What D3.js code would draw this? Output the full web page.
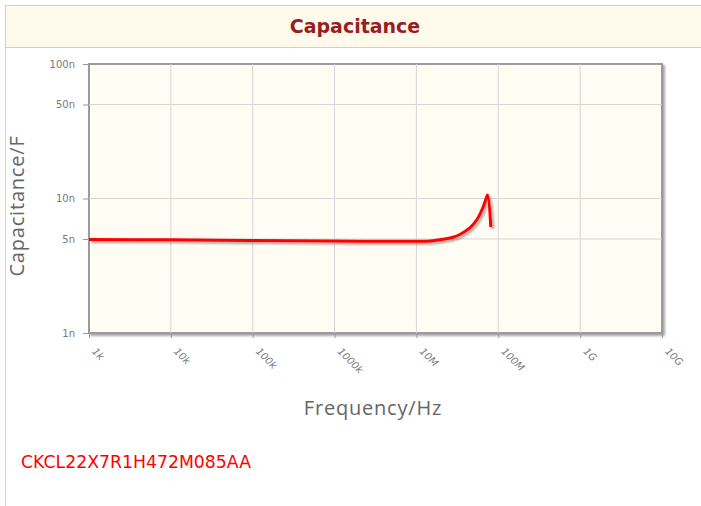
<!DOCTYPE html>
<html>
<head>
<meta charset="utf-8">
<script src="https://cdn.jsdelivr.net/npm/d3@7"></script>
<style>
  body { margin: 0; background: #fff; font-family: "DejaVu Sans", sans-serif; }
</style>
</head>
<body>
<script>
// data
var freqs = [1e3, 1e4, 1e5, 1e6, 1e7, 1.46e7, 2.2e7, 2.8e7, 3.39e7, 4.49e7, 5.46e7, 6.46e7, 7.1e7, 7.4e7, 8.1e7];
var caps  = [4.96e-9, 4.93e-9, 4.87e-9, 4.83e-9, 4.8e-9, 4.83e-9, 5.0e-9, 5.15e-9, 5.4e-9, 6.04e-9, 6.95e-9, 8.5e-9, 10.0e-9, 10.6e-9, 6.14e-9];
var xTicks = [1e3, 1e4, 1e5, 1e6, 1e7, 1e8, 1e9, 1e10];
var xTickLabels = ["1k", "10k", "100k", "1000k", "10M", "100M", "1G", "10G"];
var yTicks = [1e-9, 5e-9, 10e-9, 50e-9, 100e-9];
var yTickLabels = ["1n", "5n", "10n", "50n", "100n"];
var partName = "CKCL22X7R1H472M085AA";

var W = 701, H = 506;
var svg = d3.select("body").append("svg")
  .attr("width", W).attr("height", H)
  .style("display", "block");

// outer box and title bar
svg.append("rect").attr("x", 5.5).attr("y", 5.5).attr("width", W + 10).attr("height", H)
  .attr("fill", "#fff").attr("stroke", "#d0d0d0");
svg.append("rect").attr("x", 5.5).attr("y", 5.5).attr("width", W + 10).attr("height", 42)
  .attr("fill", "#fffaeb").attr("stroke", "#d0d0d0");
svg.append("text").attr("x", 355).attr("y", 33).attr("text-anchor", "middle")
  .attr("font-size", "19px").attr("font-weight", "bold").attr("fill", "#97201f")
  .text("Capacitance");

var L = 89, R = 662, T = 64, B = 333;
var x = d3.scaleLog().domain([1e3, 1e10]).range([L, R]);
var y = d3.scaleLog().domain([1e-9, 1e-7]).range([B, T]);

var defs = svg.append("defs");
var f = defs.append("filter").attr("id", "shadow").attr("x", "-10%").attr("y", "-10%").attr("width", "130%").attr("height", "130%");
f.append("feGaussianBlur").attr("in", "SourceAlpha").attr("stdDeviation", 1.2);
f.append("feOffset").attr("dx", 1.5).attr("dy", 2).attr("result", "off");
f.append("feComponentTransfer").append("feFuncA").attr("type", "linear").attr("slope", 0.35);
var m = f.append("feMerge");
m.append("feMergeNode");
m.append("feMergeNode").attr("in", "SourceGraphic");

// plot frame
svg.append("rect").attr("x", L).attr("y", T).attr("width", R - L).attr("height", B - T)
  .attr("fill", "#fffcf3").attr("stroke", "#9a9a9a").attr("stroke-width", 2)
  .attr("filter", "url(#shadow)");

// grid
svg.append("g").selectAll("line").data(xTicks.slice(1, -1)).join("line")
  .attr("x1", d => x(d)).attr("x2", d => x(d)).attr("y1", T).attr("y2", B)
  .attr("stroke", "#d6d6d6").attr("stroke-width", 1);
svg.append("g").selectAll("line").data(yTicks.slice(1, -1)).join("line")
  .attr("x1", L).attr("x2", R).attr("y1", d => y(d)).attr("y2", d => y(d))
  .attr("stroke", "#d6d6d6").attr("stroke-width", 1);

// axes
var yAxis = d3.axisLeft(y).tickValues(yTicks).tickSize(6).tickPadding(8)
  .tickFormat((d, i) => yTickLabels[i]);
var gy = svg.append("g").attr("transform", "translate(" + L + ",0)").call(yAxis);
gy.select(".domain").remove();
gy.selectAll(".tick line").attr("stroke", "#999");
gy.selectAll("text").attr("fill", "#777").attr("font-size", "10px").attr("font-family", "DejaVu Sans, sans-serif");

var xAxis = d3.axisBottom(x).tickValues(xTicks).tickSize(5)
  .tickFormat((d, i) => xTickLabels[i]);
var gx = svg.append("g").attr("transform", "translate(0," + B + ")").call(xAxis);
gx.select(".domain").remove();
gx.selectAll(".tick line").attr("stroke", "#999");
gx.selectAll("text")
  .attr("fill", "#777").attr("font-size", "10px").attr("font-style", "italic")
  .attr("font-family", "DejaVu Sans, sans-serif")
  .attr("text-anchor", "start").attr("dy", null).attr("y", 0)
  .attr("transform", "translate(2,19) rotate(45)");

// curve
var pts = freqs.map((d, i) => [d, caps[i]]);
var line = d3.line().x(d => x(d[0])).y(d => y(d[1])).curve(d3.curveCatmullRom.alpha(0.5));
svg.append("path").datum(pts).attr("d", line)
  .attr("fill", "none").attr("stroke", "#ff0000").attr("stroke-width", 3)
  .attr("stroke-linejoin", "round").attr("filter", "url(#shadow)");

// axis titles
svg.append("text").attr("x", 373).attr("y", 415).attr("text-anchor", "middle")
  .attr("font-size", "20px").attr("fill", "#666").attr("letter-spacing", "0.8px")
  .attr("font-family", "Open Sans, sans-serif")
  .text("Frequency/Hz");
svg.append("text").attr("transform", "translate(24,206) rotate(-90)").attr("text-anchor", "middle")
  .attr("font-size", "20px").attr("fill", "#666").attr("letter-spacing", "0.8px")
  .attr("font-family", "Open Sans, sans-serif")
  .text("Capacitance/F");

svg.append("text").attr("x", 21).attr("y", 468)
  .attr("font-size", "17.3px").attr("fill", "#ff0000")
  .text(partName);
</script>
</body>
</html>
